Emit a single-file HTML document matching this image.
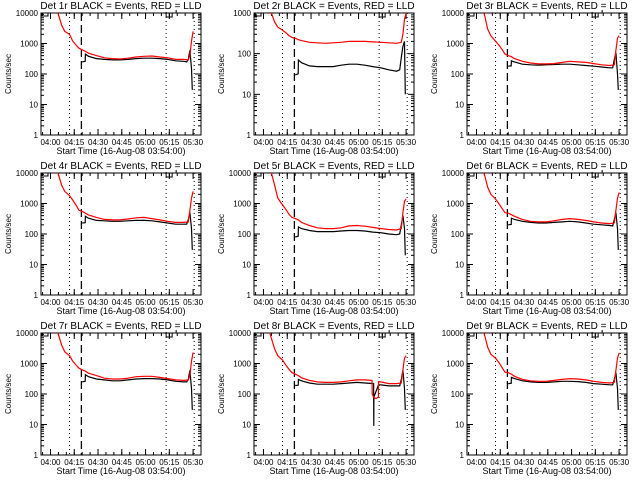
<!DOCTYPE html>
<html><head><meta charset="utf-8"><style>
html,body{margin:0;padding:0;background:#fff;}
svg{display:block;font-family:"Liberation Sans",sans-serif;}
</style></head><body>
<svg id="c" width="640" height="480" viewBox="0 0 640 480"></svg>
<script>
// Data: times in minutes since 03:54:00
const redT   = [0,10,11,13,15,18,20,22,24,26,28,30,35,40,45,50,55,60,65,70,75,80,85,90,93,94,95,96];
const blackT = [26,27.9,28,30,35,40,45,50,55,60,65,70,75,80,85,90,92,93,94,95,95.5];
const red1 = [20000,12000,9000,4000,2500,2000,1200,900,700,620,550,480,400,340,320,310,330,360,380,390,360,340,300,300,290,400,1200,2500];
const blk1 = [250,260,450,380,320,300,290,290,300,320,330,330,320,300,270,260,250,300,600,150,30];
const red2 = [20000,2000,1000,600,450,380,330,280,250,240,220,210,190,185,180,185,190,200,200,200,195,190,185,180,190,300,700,1000];
const blk2 = [30,32,70,60,50,48,48,48,52,55,55,52,48,45,40,37,40,80,150,200,10];
const red3 = [20000,12000,9000,3000,1800,1200,900,650,450,400,370,320,260,230,215,215,220,240,260,250,240,220,200,190,200,600,1500,1800];
const blk3 = [180,185,270,250,210,200,195,200,205,210,210,200,190,180,170,160,160,300,500,100,30];
const red4 = [20000,12000,9000,4000,2500,1800,1300,900,600,550,480,420,350,300,290,290,310,340,350,320,290,260,240,240,250,600,1500,2500];
const blk4 = [230,235,380,330,280,270,260,260,270,280,280,270,250,230,210,210,210,300,500,150,30];
const red5 = [20000,12000,10000,4000,1500,900,650,450,350,320,290,240,190,160,150,150,160,185,190,180,165,150,140,135,150,500,1200,1400];
const blk5 = [80,85,170,150,130,120,120,120,125,130,130,125,115,110,100,95,100,200,400,150,20];
const red6 = [20000,12000,9000,3500,2000,1400,1000,700,500,480,430,380,300,260,250,250,270,300,320,300,280,250,230,220,230,600,1500,2300];
const blk6 = [200,205,330,300,260,240,230,230,240,250,260,250,230,210,200,190,185,300,500,150,30];
const red7 = [20000,12000,9000,4000,2400,1800,1200,900,700,620,560,480,400,330,310,310,330,370,380,380,350,320,290,280,290,400,1200,2300];
const blk7 = [250,260,430,370,310,290,270,270,290,310,320,320,310,290,260,250,250,300,600,150,30];
const red9 = [20000,12000,9000,3500,2000,1500,1100,750,520,500,450,380,300,270,260,260,280,300,320,310,290,260,240,230,240,600,1500,2200];
const blk9 = [220,225,350,320,270,250,240,240,250,260,260,255,240,220,210,200,200,300,500,150,30];
// Panel 8 has a dropout, so its own times
const red8T = [0,10,13,15,18,20,22,24,26,28,30,35,40,45,50,55,60,65,70,74.5,74.6,75.5,77,78.5,78.6,80,85,90,93,94,95,96];
const red8  = [20000,10000,3000,1800,1300,900,650,500,450,400,340,280,250,240,240,250,270,290,290,280,100,80,70,80,250,250,220,220,230,600,1500,1800];
const blk8T = [26,27.9,28,30,35,40,45,50,55,60,65,70,75.5,75.6,75.7,78.6,80,85,90,92,93,94,95,95.5];
const blk8  = [190,195,300,270,230,210,210,210,220,230,240,230,220,9,80,200,200,185,185,185,300,600,150,30];

const panels = [
 {n:'1',rt:redT,r:red1,bt:blackT,b:blk1,dec:4},
 {n:'2',rt:redT,r:red2,bt:blackT,b:blk2,dec:3},
 {n:'3',rt:redT,r:red3,bt:blackT,b:blk3,dec:4},
 {n:'4',rt:redT,r:red4,bt:blackT,b:blk4,dec:4},
 {n:'5',rt:redT,r:red5,bt:blackT,b:blk5,dec:4},
 {n:'6',rt:redT,r:red6,bt:blackT,b:blk6,dec:4},
 {n:'7',rt:redT,r:red7,bt:blackT,b:blk7,dec:4},
 {n:'8',rt:red8T,r:red8,bt:blk8T,b:blk8,dec:4},
 {n:'9',rt:redT,r:red9,bt:blackT,b:blk9,dec:4}
];
const xTickLabels = ['04:00','04:15','04:30','04:45','05:00','05:15','05:30'];
const xTickMins = [6,21,36,51,66,81,96];
const dottedMins = [18,79,96.7];
const dashedMin = 25.5;

const NS='http://www.w3.org/2000/svg';
const svg=document.getElementById('c');
function mk(tag,attrs,parent){const e=document.createElementNS(NS,tag);for(const k in attrs)e.setAttribute(k,attrs[k]);(parent||svg).appendChild(e);return e;}

panels.forEach((p,i)=>{
  const col=i%3,row=Math.floor(i/3);
  const L=[41,254,467][col], R=L+160, T=13+row*160, B=T+122;
  const xMax=101;
  const xs=m=>L+m*(R-L)/xMax;
  const ys=v=>B-Math.log10(v)*(B-T)/p.dec;
  const g=mk('g',{});
  
  
  const cid='clip'+i;
  const cp=mk('clipPath',{id:cid},g); mk('rect',{x:L,y:T,width:R-L,height:B-T},cp);
  const fr=mk('rect',{x:L,y:T,width:R-L,height:B-T,fill:'none',stroke:'#000','stroke-width':1},g);
  
  
  for(let d=0;d<=p.dec;d++){
    const y=ys(Math.pow(10,d));
    mk('line',{x1:L,x2:L+6,y1:y,y2:y,stroke:'#000'},g);
    mk('line',{x1:R,x2:R-6,y1:y,y2:y,stroke:'#000'},g);
    const t=mk('text',{x:L-3,y:y+3,'font-size':8,'text-anchor':'end'},g);
    t.textContent=String(Math.pow(10,d));
    
    
    if(d<p.dec) for(let k=2;k<10;k++){const yy=ys(k*Math.pow(10,d));
      mk('line',{x1:L,x2:L+3,y1:yy,y2:yy,stroke:'#000'},g);
      mk('line',{x1:R,x2:R-3,y1:yy,y2:yy,stroke:'#000'},g);}
  }
  xTickMins.forEach((m,k)=>{
    const x=xs(m);
    mk('line',{x1:x,x2:x,y1:B,y2:B-6,stroke:'#000'},g);
    mk('line',{x1:x,x2:x,y1:T,y2:T+6,stroke:'#000'},g);
    const t=mk('text',{x:x,y:B+10,'font-size':8,'text-anchor':'middle'},g);
    t.textContent=xTickLabels[k];
    
    
  });
  for(let m=1;m<xMax;m+=5){const x=xs(m);
    mk('line',{x1:x,x2:x,y1:B,y2:B-3,stroke:'#000'},g);
    mk('line',{x1:x,x2:x,y1:T,y2:T+3,stroke:'#000'},g);}
  const tt=mk('text',{x:(L+R)/2,y:T-4,'font-size':10,'text-anchor':'middle'},g);
  tt.textContent='Det '+p.n+'r BLACK = Events, RED = LLD';
  
  
  const xt=mk('text',{x:(L+R)/2,y:B+19,'font-size':9,'text-anchor':'middle'},g);
  xt.textContent='Start Time (16-Aug-08 03:54:00)';
  
  
  const yt=mk('text',{x:0,y:0,'font-size':8,'text-anchor':'middle',transform:`translate(${L-30},${(T+B)/2}) rotate(-90)`},g);
  yt.textContent='Counts/sec';
  
  
  const inner=mk('g',{'clip-path':`url(#${cid})`},g);
  dottedMins.forEach(m=>{const x=xs(m);
    const l=mk('line',{x1:x,x2:x,y1:T,y2:B,stroke:'#000','stroke-dasharray':'1,3'},inner);
    
    });
  const dx=xs(dashedMin);
  const dl=mk('line',{x1:dx,x2:dx,y1:T,y2:B,stroke:'#000','stroke-dasharray':'8,4','stroke-width':1.3},inner);
  
  
  mk('path',{d:`M${L+1},${T} V${T+3} H${L+7} V${T}`,fill:'none',stroke:'#000'},g);
  mk('path',{d:`M${xs(79)},${T-1} V${T+4} H${xs(79)+6} V${T} H${xs(79)+10} V${T-3}`,fill:'none',stroke:'#000'},g);
  function line(ts,vs){return ts.map((t,k)=>(k?'L':'M')+xs(t).toFixed(1)+','+ys(vs[k]).toFixed(1)).join(' ');}
  const bl=mk('path',{d:line(p.bt,p.b),fill:'none',stroke:'#000','stroke-width':1.2},inner);
  
  
  const rl=mk('path',{d:line(p.rt,p.r),fill:'none',stroke:'#f00','stroke-width':1.2},inner);
  
  
});
</script>
</body></html>
